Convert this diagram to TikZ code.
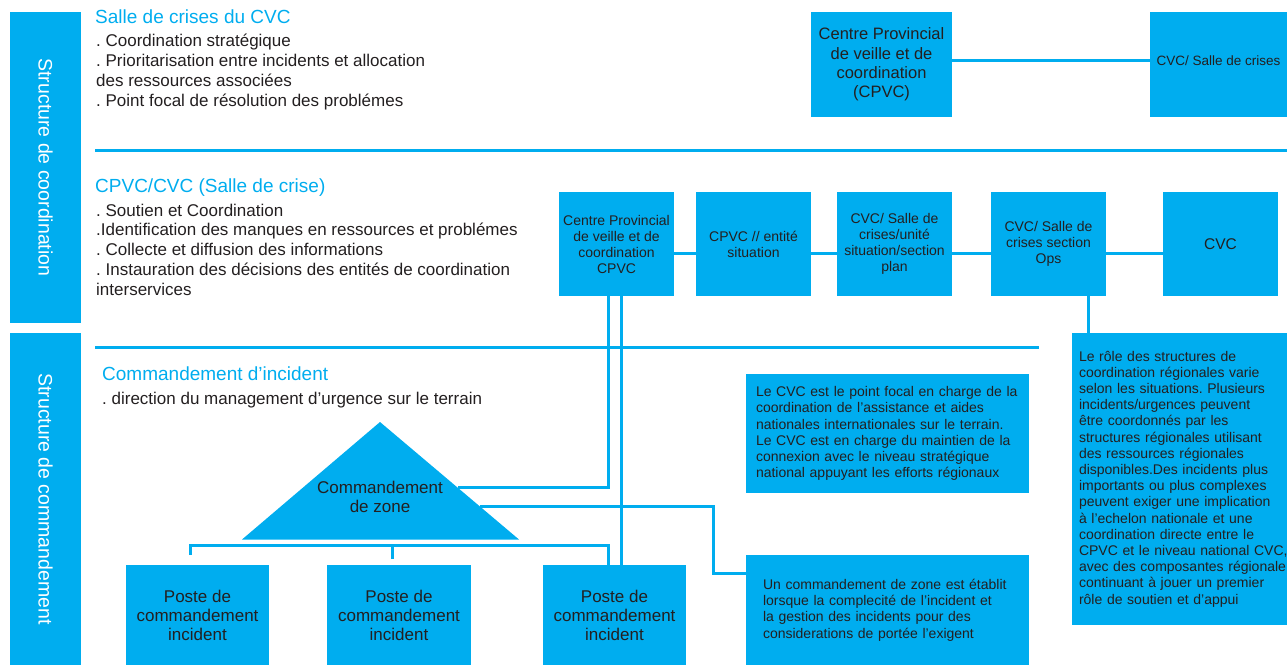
\documentclass[tikz,border=0pt]{standalone}
\usepackage{fontspec}
\setmainfont{Liberation Sans}
\usetikzlibrary{calc}
\definecolor{cyanb}{HTML}{00ADEF}
\definecolor{ink}{HTML}{231F20}
\newcommand\fs[2]{\fontsize{#1}{#2}\selectfont}
\frenchspacing
\begin{document}
\frenchspacing
\begin{tikzpicture}[x=1pt,y=-1pt,
  bluebox/.style={fill=cyanb, draw=none, inner sep=0pt, outer sep=0pt, text=ink, align=center},
  conn/.style={draw=cyanb, line width=3pt},
  sepline/.style={draw=cyanb, line width=3pt},
  headtxt/.style={anchor=base west, inner sep=0pt, text=cyanb, font=\fs{19}{22}},
  bodytxt/.style={anchor=base west, inner sep=0pt, text=ink, font=\fs{17}{19.8}},
  sidebar/.style={fill=cyanb, inner sep=0pt, outer sep=0pt, text=white, font=\fs{19.5}{22}, rotate=-90},
  midbox/.style={bluebox, minimum width=115pt, minimum height=104pt, font=\fs{14}{16}},
  postbox/.style={bluebox, minimum height=100pt, font=\fs{17}{19}},
  notebox/.style={bluebox, align=left, inner xsep=0pt, font=\fs{14}{16.2}},
]
\useasboundingbox (0,0) rectangle (1287,665);

% side bars
\node[sidebar, minimum width=311pt, minimum height=71pt] (sideC) at (45.5,167.5) {Structure de coordination};
\node[sidebar, minimum width=332pt, minimum height=71pt] (sideM) at (45.5,499) {Structure de commandement};

% separators
\draw[sepline] (95,150) -- (1287,150);
\draw[sepline] (95,347) -- (1039,347);

% headings and bodies
\node[headtxt] (h1) at (95,23) {Salle de crises du CVC};
\node[bodytxt] (b1) at (96,46.7) {\begin{tabular}[t]{@{}l@{}}. Coordination stratégique\\. Prioritarisation entre incidents et allocation\\des ressources associées\\. Point focal de résolution des problémes\end{tabular}};
\node[headtxt] (h2) at (95,192.5) {CPVC/CVC (Salle de crise)};
\node[bodytxt] (b2) at (96,216) {\begin{tabular}[t]{@{}l@{}}. Soutien et Coordination\\.Identification des manques en ressources et problémes\\. Collecte et diffusion des informations\\. Instauration des décisions des entités de coordination\\interservices\end{tabular}};
\node[headtxt] (h3) at (102,380) {Commandement d’incident};
\node[bodytxt] (b3) at (102,404) {. direction du management d’urgence sur le terrain};

% top row
\node[bluebox, minimum width=141pt, minimum height=105pt, font=\fs{16.5}{19.3}] (T1) at (881.5,64.5) {Centre Provincial\\de veille et de\\coordination\\(CPVC)};
\node[bluebox, minimum width=137pt, minimum height=105pt, font=\fs{13.5}{16}, text depth=8pt] (T2) at (1218.5,64.5) {CVC/ Salle de crises};

% middle row
\node[midbox] (A) at (616.5,244) {Centre Provincial\\de veille et de\\coordination\\CPVC};
\node[midbox] (B) at (753.5,244) {CPVC // entité\\situation};
\node[midbox] (C) at (894.5,244) {CVC/ Salle de\\crises/unité\\situation/section\\plan};
\node[midbox] (D) at (1048.5,244) {CVC/ Salle de\\crises section\\Ops};
\node[midbox, font=\fs{15.5}{18}] (E) at (1220.5,244) {CVC};

% note boxes
\node[notebox, minimum width=283pt, minimum height=119pt, text width=263pt] (L) at (887.5,433.5) {\mbox{Le CVC est le point focal en charge de la}\\\mbox{coordination de l’assistance et aides}\\\mbox{nationales internationales sur le terrain.}\\\mbox{Le CVC est en charge du maintien de la}\\\mbox{connexion avec le niveau stratégique}\\\mbox{national appuyant les efforts régionaux}};
\node[notebox, minimum width=283pt, minimum height=110pt, text width=249pt] (U) at (887.5,610) {\mbox{Un commandement de zone est établit}\\\mbox{lorsque la complecité de l’incident et}\\\mbox{la gestion des incidents pour des}\\\mbox{considerations de portée l’exigent}};
\node[notebox, minimum width=215pt, minimum height=292pt, text width=201pt] (R) at (1179.5,479) {\mbox{Le rôle des structures de}\\\mbox{coordination régionales varie}\\\mbox{selon les situations. Plusieurs}\\\mbox{incidents/urgences peuvent}\\\mbox{être coordonnés par les}\\\mbox{structures régionales utilisant}\\\mbox{des ressources régionales}\\\mbox{disponibles.Des incidents plus}\\\mbox{importants ou plus complexes}\\\mbox{peuvent exiger une implication}\\\mbox{à l’echelon nationale et une}\\\mbox{coordination directe entre le}\\\mbox{CPVC et le niveau national CVC,}\\\mbox{avec des composantes régionale}\\\mbox{continuant à jouer un premier}\\\mbox{rôle de soutien et d’appui}};

% triangle
\coordinate (apex) at (380,422);
\coordinate (bl) at (242,539.5);
\coordinate (br) at (519,539.5);
\fill[cyanb] (apex) -- (br) -- (bl) -- cycle;
\node[text=ink, align=center, inner sep=0pt, font=\fs{17}{19}] (tz) at (380,497) {Commandement\\de zone};

% poste boxes
\node[postbox, minimum width=143pt] (P1) at (197.5,615) {Poste de\\commandement\\incident};
\node[postbox, minimum width=144pt] (P2) at (399,615) {Poste de\\commandement\\incident};
\node[postbox, minimum width=143pt] (P3) at (614.5,615) {Poste de\\commandement\\incident};

% connectors
\draw[conn] ($(T1.east)+(0,-4.5)$) -- ($(T2.west)+(0,-4.5)$);
\draw[conn] ($(A.east)+(0,9.5)$) -- ($(B.west)+(0,9.5)$);
\draw[conn] ($(B.east)+(0,9.5)$) -- ($(C.west)+(0,9.5)$);
\draw[conn] ($(C.east)+(0,9.5)$) -- ($(D.west)+(0,9.5)$);
\draw[conn] ($(D.east)+(0,9.5)$) -- ($(E.west)+(0,9.5)$);

\coordinate (z1) at ($(apex)!0.559!(br)$);
\coordinate (z2) at ($(apex)!0.72!(br)$);
\coordinate (a1) at ($(A.south)+(-8.5,0)$);
\coordinate (a2) at ($(A.south)+(5,0)$);
\draw[conn] (a1) |- (z1);
\draw[conn] (a2) -- (a2 |- P3.north);

\coordinate (k) at (713,573);
\draw[conn] (z2) -| (k) -- (k -| U.west);

\coordinate (bary) at (0,545);
\coordinate (p1t) at ($(P1.north)+(-7.5,-10)$);
\coordinate (p2t) at ($(P2.north)+(-7,-6)$);
\coordinate (p3t) at ($(P3.north)+(-6.5,0)$);
\draw[conn] (p1t) |- (p3t |- bary) -- (p3t);
\draw[conn] (p2t) -- (p2t |- bary);

\coordinate (d1) at ($(D.south)+(39.5,0)$);
\draw[conn] (d1) -- (d1 |- R.north);
\end{tikzpicture}
\end{document}
